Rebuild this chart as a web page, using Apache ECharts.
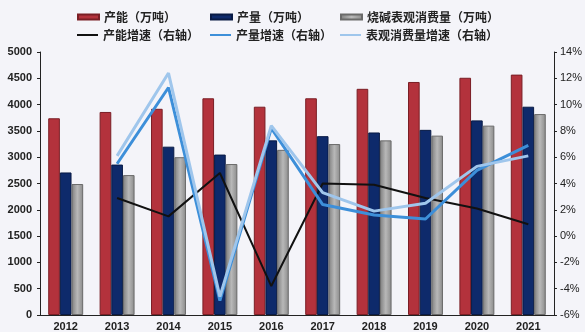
<!DOCTYPE html>
<html>
<head>
<meta charset="utf-8">
<script src="https://cdn.jsdelivr.net/npm/echarts@6/dist/echarts.min.js"></script>
<style>
html,body{margin:0;padding:0;background:#f4f4f9;}
#chart{width:585px;height:332px;}
</style>
</head>
<body>
<div id="chart"></div>
<script>
// Caustic soda: capacity, output, apparent consumption (10k t) and growth rates (%)
const years = ['2012','2013','2014','2015','2016','2017','2018','2019','2020','2021'];
const capacity = [3740, 3860, 3920, 4120, 3960, 4120, 4300, 4430, 4510, 4570];
const output = [2710, 2860, 3200, 3050, 3320, 3400, 3470, 3520, 3700, 3960];
const consumption = [2490, 2660, 3000, 2870, 3140, 3250, 3320, 3410, 3600, 3820];
const capacityGrowth = [null, 2.9, 1.5, 4.8, -3.8, 4.0, 3.9, 2.9, 2.1, 0.9];
const outputGrowth = [null, 5.5, 11.3, -4.9, 8.2, 2.4, 1.6, 1.3, 5.0, 6.9];
const consumptionGrowth = [null, 6.1, 12.4, -4.6, 8.4, 3.3, 1.9, 2.5, 5.3, 6.1];

const names = ['产能（万吨）','产量（万吨）','烧碱表观消费量（万吨）','产能增速（右轴）','产量增速（右轴）','表观消费量增速（右轴）'];

const cjk = '"Noto Sans CJK SC", "Noto Sans", sans-serif';
const num = '"Liberation Sans", Arial, sans-serif';

const chart = echarts.init(document.getElementById('chart'));

// six legend entries laid out in two rows of three columns
const legendPos = [[72,6],[205,6],[335,6],[72,24],[205,24],[335,24]];
const legends = names.map((n,i)=>({
  data:[n], left:legendPos[i][0], top:legendPos[i][1],
  itemWidth:21, itemHeight: i<3 ? 5 : 2, itemGap:2,
  icon:'rect',
  textStyle:{fontFamily:cjk, fontSize:12, fontWeight:'bold', color:'#222'}
}));

const barBorder = (c)=>({borderColor:c, borderWidth:1});

chart.setOption({
  backgroundColor:'#f4f4f9',
  animation:false,
  legend: legends,
  grid:{left:40, right:30, top:52, bottom:14},
  xAxis:{
    type:'category', data:years,
    axisLine:{lineStyle:{color:'#222', width:1}},
    axisTick:{show:false},
    axisLabel:{color:'#222', fontFamily:num, fontWeight:'bold', fontSize:11, margin:6}
  },
  yAxis:[{
    type:'value', min:0, max:5000, interval:500,
    axisLine:{show:true, lineStyle:{color:'#222'}},
    axisTick:{show:true, length:3, lineStyle:{color:'#222'}},
    splitLine:{show:false},
    axisLabel:{color:'#222', fontFamily:num, fontWeight:'bold', fontSize:11, margin:8,
      formatter:(v)=>String(v)}
  },{
    type:'value', min:-6, max:14, interval:2,
    axisLine:{show:true, lineStyle:{color:'#222'}},
    axisTick:{show:true, length:3, lineStyle:{color:'#222'}},
    splitLine:{show:false},
    axisLabel:{color:'#222', fontFamily:num, fontSize:11, margin:6, formatter:'{value}%'}
  }],
  series:[
    {name:names[0], type:'bar', data:capacity, barGap:'0%', barCategoryGap:'32%',
      itemStyle:Object.assign({color:'#b3323c'}, barBorder('#7a1e25'))},
    {name:names[1], type:'bar', data:output,
      itemStyle:Object.assign({color:'#0e2a6b'}, barBorder('#081a45'))},
    {name:names[2], type:'bar', data:consumption,
      itemStyle:Object.assign({color:new echarts.graphic.LinearGradient(0,0,1,0,[
        {offset:0,color:'#7d7d7d'},{offset:0.5,color:'#b8b8b8'},{offset:1,color:'#8a8a8a'}])}, barBorder('#6a6a6a'))},
    {name:names[3], type:'line', yAxisIndex:1, data:capacityGrowth, symbol:'none',
      itemStyle:{color:'#111'}, lineStyle:{color:'#111', width:2}},
    {name:names[4], type:'line', yAxisIndex:1, data:outputGrowth, symbol:'none',
      itemStyle:{color:'#3d8fd9'}, lineStyle:{color:'#3d8fd9', width:3}},
    {name:names[5], type:'line', yAxisIndex:1, data:consumptionGrowth, symbol:'none',
      itemStyle:{color:'#9fc6ec'}, lineStyle:{color:'#9fc6ec', width:3}}
  ]
});
</script>
</body>
</html>
